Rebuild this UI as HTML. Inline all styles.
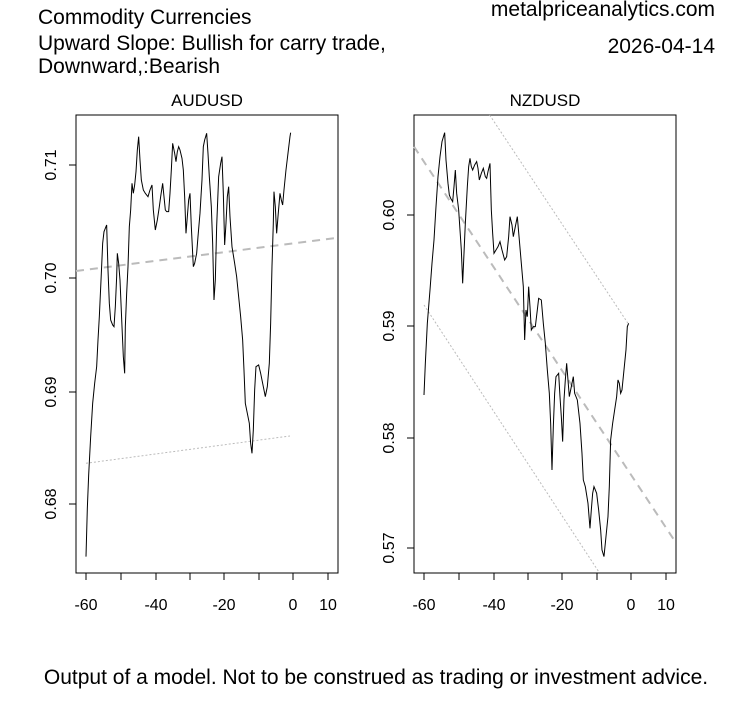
<!DOCTYPE html>
<html><head><style>
body{margin:0;background:#fff;}
svg{display:block;font-family:"Liberation Sans",Arial,sans-serif;}
</style></head><body>
<svg width="753" height="708" viewBox="0 0 753 708" xmlns="http://www.w3.org/2000/svg">
<rect width="753" height="708" fill="#fff"/>
<g font-size="21" fill="#000">
<text x="38" y="24">Commodity Currencies</text>
<text x="38" y="50">Upward Slope: Bullish for carry trade,</text>
<text x="38" y="73">Downward,:Bearish</text>
<text x="715" y="16" text-anchor="end">metalpriceanalytics.com</text>
<text x="715" y="53" text-anchor="end">2026-04-14</text>
<text x="376" y="684" text-anchor="middle">Output of a model. Not to be construed as trading or investment advice.</text>
</g>
<g font-size="17" text-anchor="middle">
<text x="207" y="106">AUDUSD</text>
<text x="545" y="106">NZDUSD</text>
</g>
<!-- Left -->
<rect x="76" y="115" width="262" height="458" fill="none" stroke="#000"/>
<g stroke="#000">
<line x1="86" y1="573" x2="86" y2="580"/><line x1="121" y1="573" x2="121" y2="580"/><line x1="156" y1="573" x2="156" y2="580"/><line x1="190" y1="573" x2="190" y2="580"/><line x1="224" y1="573" x2="224" y2="580"/><line x1="259" y1="573" x2="259" y2="580"/><line x1="293" y1="573" x2="293" y2="580"/><line x1="328" y1="573" x2="328" y2="580"/>
<line x1="69" y1="165" x2="76" y2="165"/><line x1="69" y1="278" x2="76" y2="278"/><line x1="69" y1="392" x2="76" y2="392"/><line x1="69" y1="504" x2="76" y2="504"/>
</g>
<g font-size="16" text-anchor="middle">
<text x="86" y="610">-60</text><text x="156" y="610">-40</text><text x="224" y="610">-20</text><text x="293" y="610">0</text><text x="328" y="610">10</text>
<text transform="translate(56,165) rotate(-90)">0.71</text>
<text transform="translate(56,278) rotate(-90)">0.70</text>
<text transform="translate(56,392) rotate(-90)">0.69</text>
<text transform="translate(56,504) rotate(-90)">0.68</text>
</g>
<g transform="translate(70,110) scale(0.3333)">
<line x1="18" y1="483" x2="805" y2="383" stroke="#bbb" stroke-width="2" stroke-dasharray="8,6" vector-effect="non-scaling-stroke"/>
<line x1="48" y1="1060" x2="660" y2="978" stroke="#bbb" stroke-width="1" stroke-dasharray="2,2" vector-effect="non-scaling-stroke"/>
<polyline fill="none" stroke="#000" stroke-width="1" vector-effect="non-scaling-stroke" points="48,1340 52,1195 56,1095 62,980 68,880 74,820 80,770 84,690 88,620 94,490 98,400 102,365 110,345 114,480 118,580 122,630 128,645 132,650 136,590 140,500 142,430 146,460 150,510 156,650 160,740 164,790 166,650 170,550 174,470 178,350 182,300 186,220 190,250 194,225 198,185 202,120 206,80 210,150 214,210 220,240 226,250 234,260 240,240 246,225 250,300 256,360 262,330 268,290 272,260 278,220 282,260 286,300 290,305 296,305 300,250 304,180 308,100 314,130 318,155 322,125 326,110 330,120 336,145 340,180 344,260 348,370 352,320 356,270 360,250 364,350 370,470 374,460 380,430 384,380 390,310 396,210 400,110 404,90 410,70 414,130 418,200 424,290 428,400 432,570 436,510 440,350 446,200 452,160 456,140 460,250 464,405 468,340 472,260 476,230 480,320 486,410 494,460 500,500 506,560 512,620 518,690 522,780 526,880 532,910 538,940 542,1000 546,1030 550,960 554,840 558,770 566,765 572,790 578,820 586,860 592,830 598,760 602,640 606,470 610,340 612,245 616,290 620,370 624,320 630,250 634,270 638,285 642,240 648,180 654,130 660,80 662,68"/>
</g>
<!-- Right -->
<rect x="414" y="115" width="262" height="458" fill="none" stroke="#000"/>
<g stroke="#000">
<line x1="424" y1="573" x2="424" y2="580"/><line x1="459" y1="573" x2="459" y2="580"/><line x1="494" y1="573" x2="494" y2="580"/><line x1="528" y1="573" x2="528" y2="580"/><line x1="562" y1="573" x2="562" y2="580"/><line x1="597" y1="573" x2="597" y2="580"/><line x1="631" y1="573" x2="631" y2="580"/><line x1="666" y1="573" x2="666" y2="580"/>
<line x1="407" y1="215" x2="414" y2="215"/><line x1="407" y1="326" x2="414" y2="326"/><line x1="407" y1="438" x2="414" y2="438"/><line x1="407" y1="548" x2="414" y2="548"/>
</g>
<g font-size="16" text-anchor="middle">
<text x="424" y="610">-60</text><text x="494" y="610">-40</text><text x="562" y="610">-20</text><text x="631" y="610">0</text><text x="666" y="610">10</text>
<text transform="translate(394,215) rotate(-90)">0.60</text>
<text transform="translate(394,326) rotate(-90)">0.59</text>
<text transform="translate(394,438) rotate(-90)">0.58</text>
<text transform="translate(394,548) rotate(-90)">0.57</text>
</g>
<g transform="translate(408,110) scale(0.3333)">
<line x1="18" y1="110" x2="805" y2="1300" stroke="#bbb" stroke-width="2" stroke-dasharray="8,6" vector-effect="non-scaling-stroke"/>
<line x1="245" y1="15" x2="660" y2="640" stroke="#bbb" stroke-width="1" stroke-dasharray="2,2" vector-effect="non-scaling-stroke"/>
<line x1="48" y1="585" x2="572" y2="1385" stroke="#bbb" stroke-width="1" stroke-dasharray="2,2" vector-effect="non-scaling-stroke"/>
<polyline fill="none" stroke="#000" stroke-width="1" vector-effect="non-scaling-stroke" points="48,855 52,760 58,640 62,590 66,540 72,460 78,390 84,290 90,200 96,140 102,95 110,68 114,150 120,220 124,255 128,265 134,275 138,230 142,180 146,250 152,300 156,360 160,420 164,520 168,430 172,340 178,230 182,170 186,145 190,170 194,180 200,165 206,155 210,175 214,210 220,190 226,175 232,200 236,205 240,185 246,160 250,300 254,370 258,430 264,420 270,410 276,395 282,420 290,450 296,440 302,380 306,320 312,345 316,380 322,350 328,320 334,390 340,460 346,530 350,690 354,600 358,620 362,530 366,590 370,660 376,650 382,650 388,600 392,565 400,570 406,640 412,700 418,780 424,850 428,940 432,1080 436,950 440,850 444,800 452,790 456,860 460,920 464,995 468,870 472,810 476,760 480,810 484,860 490,830 496,800 500,850 508,870 516,940 522,1030 526,1110 532,1130 540,1180 546,1255 550,1200 554,1150 558,1130 562,1140 566,1150 572,1200 578,1260 582,1320 588,1340 594,1280 600,1220 604,1130 608,990 614,940 620,900 626,860 630,810 634,820 638,850 642,840 646,800 650,760 654,720 658,650 662,640"/>
</g>
</svg>
</body></html>
